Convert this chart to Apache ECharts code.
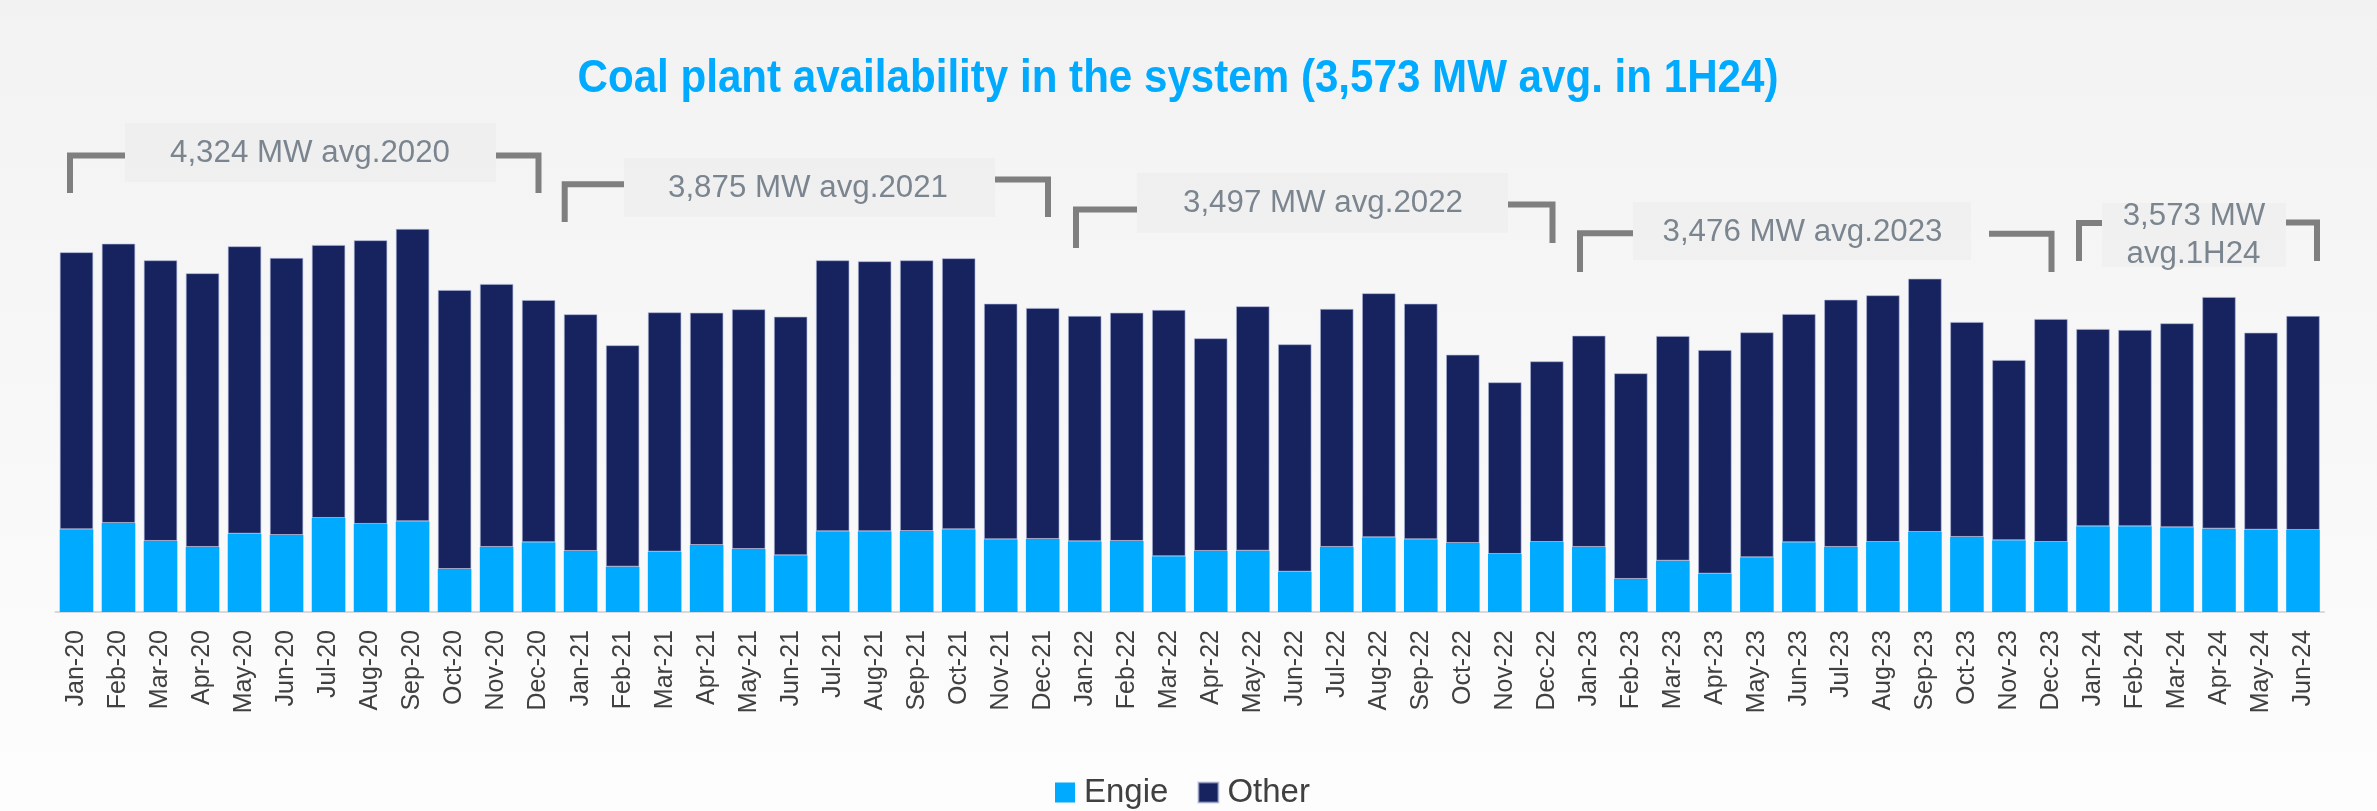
<!DOCTYPE html>
<html>
<head>
<meta charset="utf-8">
<script src="https://cdn.jsdelivr.net/npm/echarts@6/dist/echarts.min.js"></script>
<style>
html,body{margin:0;padding:0;background:#f7f7f7;}
#chart{width:2377px;height:811px;}
</style>
</head>
<body>
<div id="chart"></div>
<script>
// ---- data ----
const categories = [
  'Jan-20','Feb-20','Mar-20','Apr-20','May-20','Jun-20','Jul-20','Aug-20','Sep-20','Oct-20','Nov-20','Dec-20',
  'Jan-21','Feb-21','Mar-21','Apr-21','May-21','Jun-21','Jul-21','Aug-21','Sep-21','Oct-21','Nov-21','Dec-21',
  'Jan-22','Feb-22','Mar-22','Apr-22','May-22','Jun-22','Jul-22','Aug-22','Sep-22','Oct-22','Nov-22','Dec-22',
  'Jan-23','Feb-23','Mar-23','Apr-23','May-23','Jun-23','Jul-23','Aug-23','Sep-23','Oct-23','Nov-23','Dec-23',
  'Jan-24','Feb-24','Mar-24','Apr-24','May-24','Jun-24'
];
const engie = [
  1016,1094,873,799,962,946,1155,1082,1115,528,799,857,
  750,557,741,823,774,697,992,992,995,1016,893,897,
  869,873,685,750,753,495,799,918,893,848,713,860,
  799,406,630,471,672,857,799,860,983,922,881,860,
  1053,1053,1041,1024,1011,1008
];
const other = [
  3405,3432,3449,3364,3532,3405,3355,3486,3592,3429,3232,2977,
  2909,2721,2942,2855,2946,2932,3330,3318,3327,3331,2896,2839,
  2769,2805,3027,2614,3004,2795,2925,2999,2896,2314,2110,2221,
  2597,2528,2762,2749,2765,2805,3039,3032,3113,2642,2216,2741,
  2425,2413,2507,2847,2422,2630
];
const seriesNames = ['Engie', 'Other'];
const titleText = 'Coal plant availability in the system (3,573 MW avg. in 1H24)';
const avgLabels = ['4,324 MW avg.2020', '3,875 MW avg.2021', '3,497 MW avg.2022', '3,476 MW avg.2023', '3,573 MW\navg.1H24'];

// ---- helpers ----
const FONT = "'Liberation Sans', Arial, sans-serif";
function measure(text, size, weight) {
  const ctx = document.createElement('canvas').getContext('2d');
  ctx.font = (weight || 'normal') + ' ' + size + 'px ' + FONT;
  return ctx.measureText(text).width;
}
const titleSize = 47;
const titleScale = 1201 / measure(titleText, titleSize, 'bold');
const annSize = 31;
const annScale = 280 / measure(avgLabels[0], annSize, 'normal');

const GRAY = '#7f7f7f';
const TXT = '#7b858f';

function bracket(pts) {
  return {
    type: 'polyline', silent: true,
    shape: { points: pts },
    style: { stroke: GRAY, lineWidth: 6, lineJoin: 'miter', lineCap: 'butt', fill: null }
  };
}
function box(x, y, w, h) {
  return { type: 'rect', silent: true, shape: { x: x, y: y, width: w, height: h }, style: { fill: 'rgba(225,225,225,0.22)' } };
}
function label(text, cx, cy) {
  return {
    type: 'text', silent: true, x: cx, y: cy, scaleX: annScale,
    style: { text: text, x: 0, y: 0, align: 'center', verticalAlign: 'middle',
      fontSize: annSize, fontFamily: FONT, fill: TXT }
  };
}

const graphics = [
  // boxes behind labels
  box(125, 123, 371, 59),
  box(624, 158, 371, 59),
  box(1137, 173, 371, 60),
  box(1633, 202, 338, 58),
  box(2102, 203, 184, 64),
  // brackets
  bracket([[70,193],[70,155.5],[125,155.5]]),
  bracket([[496,155.5],[538.5,155.5],[538.5,193]]),
  bracket([[564.7,222],[564.7,184.2],[624,184.2]]),
  bracket([[995,179.5],[1048,179.5],[1048,217]]),
  bracket([[1076,248],[1076,209.5],[1137,209.5]]),
  bracket([[1508,204.5],[1552.5,204.5],[1552.5,243]]),
  bracket([[1580,272],[1580,233.3],[1633,233.3]]),
  bracket([[1989,233.7],[2051.5,233.7],[2051.5,272]]),
  bracket([[2079,261],[2079,223],[2102,223]]),
  bracket([[2286,222.5],[2317,222.5],[2317,261]]),
  // labels
  label(avgLabels[0], 310, 153),
  label(avgLabels[1], 808, 188),
  label(avgLabels[2], 1323, 203),
  label(avgLabels[3], 1802.5, 232.5),
  label(avgLabels[4].split('\n')[0], 2194, 216),
  label(avgLabels[4].split('\n')[1], 2193.5, 254.5),
  // title
  {
    type: 'text', silent: true, x: 1178, y: 79, scaleX: titleScale,
    style: { text: titleText, x: 0, y: 0, align: 'center', verticalAlign: 'middle',
      fontSize: titleSize, fontWeight: 'bold', fontFamily: FONT, fill: '#00AAFF' }
  }
];

const chart = echarts.init(document.getElementById('chart'), null, { renderer: 'canvas' });
chart.setOption({
  animation: false,
  backgroundColor: {
    type: 'linear', x: 0, y: 0, x2: 0, y2: 1,
    colorStops: [{ offset: 0, color: '#f2f2f2' }, { offset: 1, color: '#fdfdfd' }]
  },
  grid: { left: 55.5, right: 53, top: 205, bottom: 199, containLabel: false },
  legend: {
    data: seriesNames,
    left: 1050, top: 771,
    icon: 'rect', itemWidth: 20, itemHeight: 20, itemGap: 29,
    textStyle: { fontSize: 33, color: '#404040', fontFamily: FONT, padding: [0, 0, 0, 4] }
  },
  xAxis: {
    type: 'category', data: categories,
    axisLine: { lineStyle: { color: '#d9d9d9', width: 2 } },
    axisTick: { show: false },
    axisLabel: { rotate: 90, fontSize: 25, color: '#404040', fontFamily: FONT, margin: 18, interval: 0 }
  },
  yAxis: { type: 'value', min: 0, max: 5000, show: false, splitLine: { show: false } },
  series: [
    { name: seriesNames[0], type: 'bar', stack: 'total', data: engie, barCategoryGap: '20%',
      itemStyle: { color: '#00AAFF' } },
    { name: seriesNames[1], type: 'bar', stack: 'total', data: other, barCategoryGap: '20%',
      itemStyle: { color: '#16235E', borderColor: 'rgba(170,178,215,0.6)', borderWidth: 1 } }
  ],
  graphic: graphics
});
</script>
</body>
</html>
